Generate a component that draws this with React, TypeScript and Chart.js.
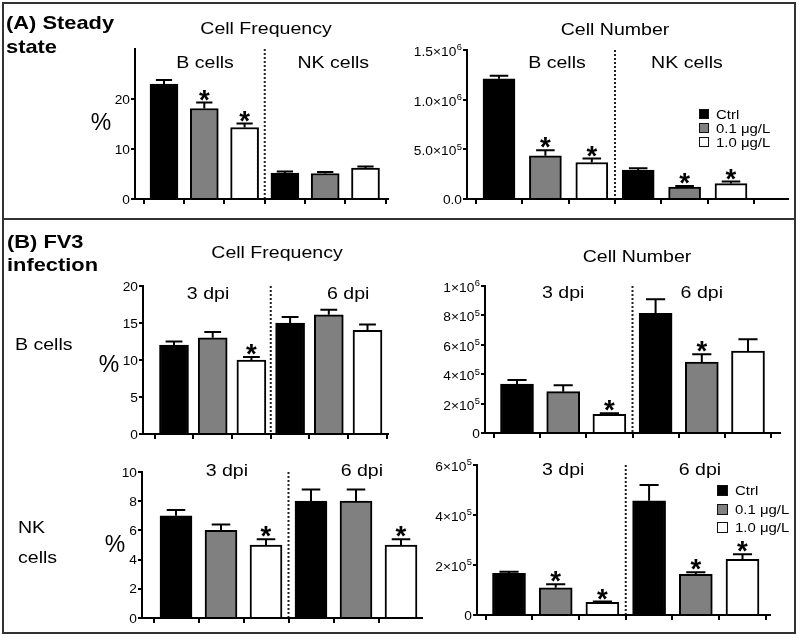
import React, { useEffect, useRef } from 'react';
import { Chart, registerables } from 'chart.js';

Chart.register(...registerables);

const FONT = '"Liberation Sans", Arial, Helvetica, sans-serif';
const SX = 1.15; // horizontal stretch of the reference lettering
const TSX = 1.1; // stretch for tick labels
const INK = '#000000';

// ---------- data ----------
const treatments = ['Ctrl', '0.1 μg/L', '1.0 μg/L'];
const treatmentFills = ['#000000', '#808080', '#ffffff'];
const steadyGroups = ['B cells', 'NK cells'];
const infectionGroups = ['3 dpi', '6 dpi'];

// order in each array: [Ctrl, 0.1, 1.0] of group 1, then [Ctrl, 0.1, 1.0] of group 2
const steadyFreqMean = [23.0, 18.1, 14.3, 5.2, 5.1, 6.2];
const steadyFreqErr = [0.8, 1.2, 0.8, 0.3, 0.3, 0.3];
const steadyFreqSig = [0, 1, 1, 0, 0, 0];
const steadyFreqTicks = [0, 10, 20];

const steadyNumMean = [1210000, 435000, 367000, 290000, 120000, 155000];
const steadyNumErr = [30000, 55000, 40000, 20000, 10000, 20000];
const steadyNumSig = [0, 1, 1, 0, 1, 1];
const steadyNumTicks = [0, 500000, 1000000, 1500000];

const fv3BFreqMean = [12.0, 13.0, 10.0, 15.0, 16.1, 14.0];
const fv3BFreqErr = [0.5, 0.8, 0.4, 0.8, 0.7, 0.8];
const fv3BFreqSig = [0, 0, 1, 0, 0, 0];
const fv3BFreqTicks = [0, 5, 10, 15, 20];

const fv3BNumMean = [333000, 281000, 127000, 814000, 483000, 558000];
const fv3BNumErr = [27000, 44000, 7000, 96000, 52000, 79000];
const fv3BNumSig = [0, 0, 1, 0, 1, 0];
const fv3BNumTicks = [0, 200000, 400000, 600000, 800000, 1000000];

const fv3NKFreqMean = [7.0, 6.0, 5.0, 8.0, 8.0, 5.0];
const fv3NKFreqErr = [0.4, 0.4, 0.4, 0.8, 0.8, 0.4];
const fv3NKFreqSig = [0, 0, 1, 0, 0, 1];
const fv3NKFreqTicks = [0, 2, 4, 6, 8, 10];

const fv3NKNumMean = [167000, 109000, 51000, 457000, 163000, 223000];
const fv3NKNumErr = [6000, 14000, 3000, 63000, 8000, 20000];
const fv3NKNumSig = [0, 1, 1, 0, 1, 1];
const fv3NKNumTicks = [0, 200000, 400000, 600000];

type Fmt = 'plain' | 'sci1' | 'sci0';
interface Panel {
  key: string;
  groups: string[];
  mean: number[];
  err: number[];
  sig: number[];
  ticks: number[];
  yMax: number;
  fmt: Fmt;
  axisX: number;
  zeroY: number;
  topY: number;
  xEnd: number;
  first: number;
  spacing: number;
  bw: number;
  groupX: number[];
  groupDy: number;
}

const panels: Panel[] = [
  { key: 'aFreq', groups: steadyGroups, mean: steadyFreqMean, err: steadyFreqErr, sig: steadyFreqSig, ticks: steadyFreqTicks, yMax: 30, fmt: 'plain',
    axisX: 135, zeroY: 199, topY: 49, xEnd: 388, first: 164, spacing: 40.3, bw: 28, groupX: [1.02, 4.2], groupDy: 13 },
  { key: 'aNum', groups: steadyGroups, mean: steadyNumMean, err: steadyNumErr, sig: steadyNumSig, ticks: steadyNumTicks, yMax: 1500000, fmt: 'sci1',
    axisX: 467, zeroY: 199, topY: 50, xEnd: 788, first: 499, spacing: 46.4, bw: 32, groupX: [1.25, 4.05], groupDy: 12 },
  { key: 'bBFreq', groups: infectionGroups, mean: fv3BFreqMean, err: fv3BFreqErr, sig: fv3BFreqSig, ticks: fv3BFreqTicks, yMax: 20, fmt: 'plain',
    axisX: 143, zeroY: 434, topY: 286, xEnd: 388, first: 174, spacing: 38.7, bw: 29, groupX: [0.88, 4.5], groupDy: 7 },
  { key: 'bBNum', groups: infectionGroups, mean: fv3BNumMean, err: fv3BNumErr, sig: fv3BNumSig, ticks: fv3BNumTicks, yMax: 1000000, fmt: 'sci0',
    axisX: 485, zeroY: 433, topY: 286, xEnd: 780, first: 517, spacing: 46.2, bw: 33, groupX: [1.0, 4.0], groupDy: 6 },
  { key: 'bNKFreq', groups: infectionGroups, mean: fv3NKFreqMean, err: fv3NKFreqErr, sig: fv3NKFreqSig, ticks: fv3NKFreqTicks, yMax: 10, fmt: 'plain',
    axisX: 142, zeroY: 618, topY: 472, xEnd: 422, first: 176, spacing: 45, bw: 32, groupX: [1.13, 4.13], groupDy: -2 },
  { key: 'bNKNum', groups: infectionGroups, mean: fv3NKNumMean, err: fv3NKNumErr, sig: fv3NKNumSig, ticks: fv3NKNumTicks, yMax: 600000, fmt: 'sci0',
    axisX: 477, zeroY: 615, topY: 465, xEnd: 770, first: 509, spacing: 46.7, bw: 33, groupX: [1.16, 4.09], groupDy: 4 },
];

// ---------- helpers ----------
function drawText(ctx: CanvasRenderingContext2D, text: string, x: number, y: number, font: string, align: 'left' | 'center' | 'right', sx: number) {
  ctx.save();
  ctx.font = font;
  ctx.textAlign = 'left';
  ctx.textBaseline = 'alphabetic';
  const w = ctx.measureText(text).width * sx;
  const x0 = align === 'left' ? x : align === 'center' ? x - w / 2 : x - w;
  ctx.translate(x0, y);
  ctx.scale(sx, 1);
  ctx.fillText(text, 0, 0);
  ctx.restore();
}

function fmtTick(v: number, fmt: Fmt): { base: string; sup?: string } {
  if (fmt === 'plain') return { base: String(v) };
  if (v === 0) return { base: fmt === 'sci1' ? '0.0' : '0' };
  const e = Math.floor(Math.log10(v) + 1e-9);
  const m = v / Math.pow(10, e);
  return { base: (fmt === 'sci1' ? m.toFixed(1) : m.toFixed(0)) + '×10', sup: String(e) };
}

const YW = 80;
const PADT = 40;
const PADR = 8;
const XH = 12;

function geom(p: Panel) {
  const left = p.axisX - YW;
  const top = p.topY - PADT;
  const width = YW + (p.xEnd - p.axisX) + PADR;
  const height = PADT + (p.zeroY - p.topY) + XH;
  const xMin = -(p.first - p.axisX) / p.spacing;
  const xMax = 5 + (p.xEnd - (p.first + 5 * p.spacing)) / p.spacing;
  return { left, top, width, height, xMin, xMax };
}

function BarPanel({ p }: { p: Panel }) {
  const ref = useRef<HTMLCanvasElement | null>(null);
  const g = geom(p);

  useEffect(() => {
    if (!ref.current) return;
    const datasets = treatments.map((label, t) => ({
      label,
      data: [0, 1].map((j) => ({ x: j * 3 + t, y: p.mean[j * 3 + t] })),
      backgroundColor: treatmentFills[t],
      borderColor: '#000000',
      borderWidth: 2,
      barThickness: p.bw,
      grouped: false,
    }));

    const plugin = {
      id: 'panel_' + p.key,
      beforeDatasetsDraw(chart: any) {
        const { ctx, chartArea, scales } = chart;
        const sx = scales.x.getPixelForValue(2.5);
        ctx.save();
        ctx.strokeStyle = '#222';
        ctx.lineWidth = 2;
        ctx.setLineDash([2, 2]);
        ctx.beginPath();
        ctx.moveTo(sx, chartArea.top);
        ctx.lineTo(sx, chartArea.bottom);
        ctx.stroke();
        ctx.restore();
      },
      afterDatasetsDraw(chart: any) {
        const { ctx, scales } = chart;
        const y = scales.y;
        ctx.save();
        ctx.font = `bold 100px ${FONT}`;
        const m100 = ctx.measureText('*');
        const h100 = (m100.actualBoundingBoxAscent || 40) + (m100.actualBoundingBoxDescent || -10);
        const aSize = (10.5 / (h100 > 1 ? h100 : 30)) * 100;
        ctx.font = `bold ${aSize}px ${FONT}`;
        const am = ctx.measureText('*');
        const aOff = (am.actualBoundingBoxAscent - am.actualBoundingBoxDescent) / 2;
        ctx.restore();

        treatments.forEach((_, t) => {
          const meta = chart.getDatasetMeta(t);
          meta.data.forEach((bar: any, j: number) => {
            const k = j * 3 + t;
            const v = p.mean[k];
            const top = y.getPixelForValue(v + p.err[k]);
            const base = y.getPixelForValue(v);
            const cap = p.bw * 0.58;
            ctx.save();
            ctx.strokeStyle = '#000';
            ctx.lineWidth = 2;
            ctx.beginPath();
            ctx.moveTo(bar.x, base);
            ctx.lineTo(bar.x, top);
            ctx.moveTo(bar.x - cap / 2, top);
            ctx.lineTo(bar.x + cap / 2, top);
            ctx.stroke();
            if (p.sig[k]) {
              ctx.fillStyle = INK;
              ctx.font = `bold ${aSize}px ${FONT}`;
              ctx.textAlign = 'center';
              ctx.textBaseline = 'alphabetic';
              ctx.fillText('*', bar.x, top - 7.5 + aOff);
            }
            ctx.restore();
          });
        });
      },
      afterDraw(chart: any) {
        const { ctx, chartArea, scales } = chart;
        const y = scales.y;
        const x = scales.x;
        ctx.save();
        ctx.fillStyle = INK;
        const baseFont = `12.5px ${FONT}`;
        const supFont = `8.5px ${FONT}`;
        y.ticks.forEach((tk: any) => {
          const py = y.getPixelForValue(tk.value);
          const { base, sup } = fmtTick(tk.value, p.fmt);
          ctx.font = baseFont;
          const wb = ctx.measureText(base).width * TSX;
          let ws = 0;
          if (sup) {
            ctx.font = supFont;
            ws = ctx.measureText(sup).width * TSX + 0.5;
          }
          const right = chartArea.left - 5;
          const xb = right - ws - wb;
          if (sup) {
            drawText(ctx, base, xb, py + 6, baseFont, 'left', TSX);
            drawText(ctx, sup, xb + wb + 0.5, py + 0.3, supFont, 'left', TSX);
          } else {
            drawText(ctx, base, xb, py + 4.5, baseFont, 'left', TSX);
          }
        });
        const gFont = `17px ${FONT}`;
        p.groups.forEach((name, i) => {
          const cx = x.getPixelForValue(p.groupX[i]);
          const cy = chartArea.top + p.groupDy;
          drawText(ctx, name, cx, cy + 0.716 * 17 / 2, gFont, 'center', SX);
        });
        ctx.restore();
      },
    };

    const chart = new Chart(ref.current, {
      type: 'bar',
      data: { datasets: datasets as any },
      options: {
        responsive: false,
        animation: false,
        events: [],
        layout: { padding: { top: PADT, right: PADR, left: 0, bottom: 0 }, autoPadding: false },
        plugins: { legend: { display: false }, tooltip: { enabled: false }, title: { display: false } },
        scales: {
          x: {
            type: 'linear',
            min: g.xMin,
            max: g.xMax,
            bounds: 'data',
            offset: false,
            grid: { display: true, drawOnChartArea: false, drawTicks: true, tickLength: 5, color: '#000', lineWidth: 2 },
            border: { display: true, color: '#000', width: 2, z: 1 },
            ticks: { display: false },
            afterBuildTicks: (s: any) => {
              s.ticks = [0, 1, 2, 3, 4, 5].map((v) => ({ value: v }));
            },
            afterFit: (s: any) => {
              s.height = XH;
            },
          },
          y: {
            type: 'linear',
            min: 0,
            max: p.yMax,
            bounds: 'data',
            grid: { display: true, drawOnChartArea: false, drawTicks: true, tickLength: 4, color: '#000', lineWidth: 2 },
            border: { display: true, color: '#000', width: 2, z: 1 },
            ticks: { display: false },
            afterBuildTicks: (s: any) => {
              s.ticks = p.ticks.map((v) => ({ value: v }));
            },
            afterFit: (s: any) => {
              s.width = YW;
            },
          },
        },
      } as any,
      plugins: [plugin as any],
    });
    return () => chart.destroy();
  }, [p]);

  return (
    <canvas
      ref={ref}
      width={g.width}
      height={g.height}
      style={{ position: 'absolute', left: g.left, top: g.top, width: g.width, height: g.height }}
    />
  );
}

function Label({ text, x, y, size, bold, align = 'left', sx = SX }: { text: string; x: number; y: number; size: number; bold?: boolean; align?: 'left' | 'center'; sx?: number }) {
  const top = y - 0.8465 * size;
  return (
    <div
      style={{
        position: 'absolute',
        left: x,
        top,
        fontSize: size,
        lineHeight: `${size}px`,
        fontWeight: bold ? 700 : 400,
        whiteSpace: 'nowrap',
        color: INK,
        transform: align === 'center' ? `translateX(-50%) scaleX(${sx})` : `scaleX(${sx})`,
        transformOrigin: align === 'center' ? '50% 50%' : '0 50%',
      }}
    >
      {text}
    </div>
  );
}

function Legend({ x, tops, size, textX }: { x: number; tops: number[]; size: number; textX: number }) {
  return (
    <>
      {treatments.map((t, i) => (
        <React.Fragment key={t}>
          <div
            style={{
              position: 'absolute',
              left: x,
              top: tops[i],
              width: size,
              height: size,
              boxSizing: 'border-box',
              border: '1.5px solid #111',
              background: treatmentFills[i],
            }}
          />
          <Label text={t} x={textX} y={tops[i] + size / 2 + 4.65} size={13} />
        </React.Fragment>
      ))}
    </>
  );
}

export default function App() {
  return (
    <div
      style={{
        position: 'absolute',
        left: 0,
        top: 0,
        width: 800,
        height: 638,
        background: '#ffffff',
        fontFamily: FONT,
        overflow: 'hidden',
      }}
    >
      <div style={{ position: 'absolute', left: 2, top: 2, width: 794, height: 632, boxSizing: 'border-box', border: '2px solid #333' }} />
      <div style={{ position: 'absolute', left: 2, top: 218, width: 794, height: 2, background: '#333' }} />

      {panels.map((p) => (
        <BarPanel key={p.key} p={p} />
      ))}

      <Label text="(A) Steady" x={6} y={29} size={19} bold />
      <Label text="state" x={6} y={53} size={19} bold />
      <Label text="(B) FV3" x={7} y={248} size={19} bold />
      <Label text="infection" x={7} y={271} size={19} bold />

      <Label text="Cell Frequency" x={266} y={34} size={17} align="center" />
      <Label text="Cell Number" x={615} y={35} size={17} align="center" />
      <Label text="Cell Frequency" x={277} y={258} size={17} align="center" />
      <Label text="Cell Number" x={637} y={262} size={17} align="center" />

      <Label text="%" x={101} y={130} size={23} align="center" sx={1} />
      <Label text="%" x={109} y={372} size={23} align="center" sx={1} />
      <Label text="%" x={115} y={552} size={23} align="center" sx={1} />

      <Label text="B cells" x={15} y={350} size={17} />
      <Label text="NK" x={18} y={533} size={17} />
      <Label text="cells" x={18} y={563} size={17} />

      <Legend x={699} tops={[109, 123, 137]} size={10} textX={716} />
      <Legend x={717} tops={[485, 504, 522]} size={11} textX={735} />
    </div>
  );
}
